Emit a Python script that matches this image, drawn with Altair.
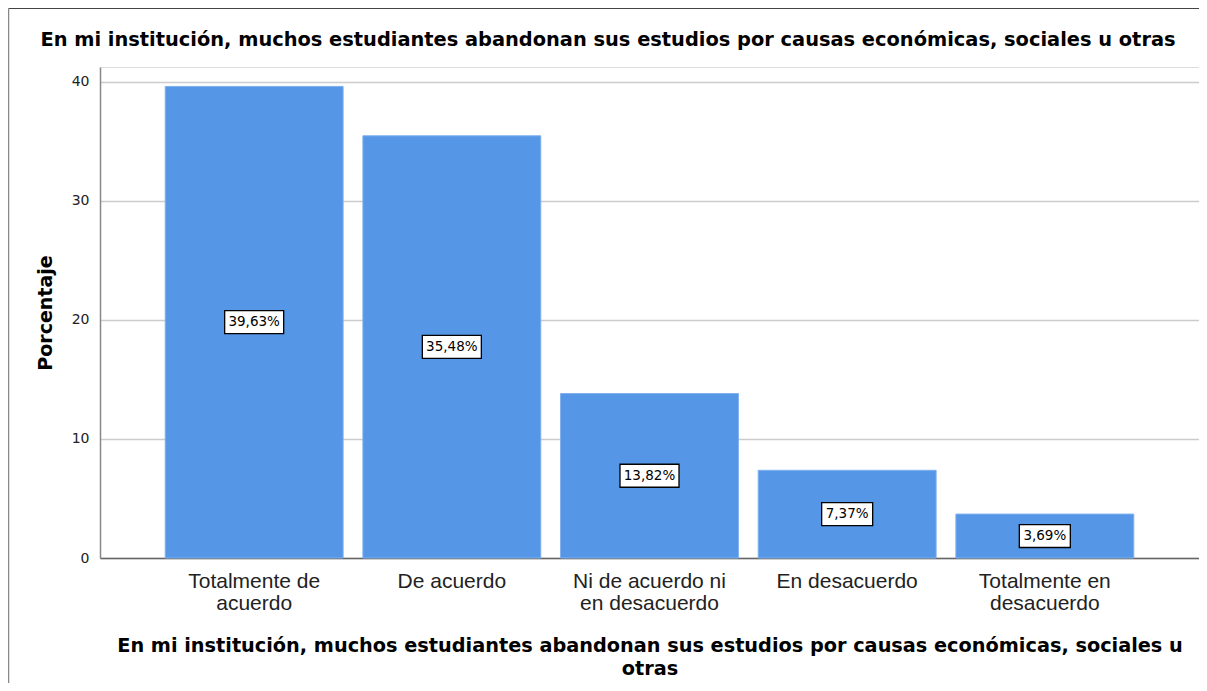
import altair as alt
import pandas as pd

title_text = "En mi institución, muchos estudiantes abandonan sus estudios por causas económicas, sociales u otras"
x_title = ["En mi institución, muchos estudiantes abandonan sus estudios por causas económicas, sociales u", "otras"]
y_title = "Porcentaje"

categories = [
    "Totalmente de|acuerdo",
    "De acuerdo",
    "Ni de acuerdo ni|en desacuerdo",
    "En desacuerdo",
    "Totalmente en|desacuerdo",
]
values = [39.63, 35.48, 13.82, 7.37, 3.69]
labels = ["39,63%", "35,48%", "13,82%", "7,37%", "3,69%"]
y_ticks = [0, 10, 20, 30, 40]

df = pd.DataFrame({"cat": categories, "v": values, "lab": labels})

W, H = 1099, 491
FONT = "Liberation Sans"
BFONT = "DejaVu Sans"

x_enc = alt.X(
    "cat:N",
    sort=categories,
    scale=alt.Scale(paddingInner=0.1, paddingOuter=0.33),
    axis=alt.Axis(
        title=x_title,
        labelExpr="split(datum.label, '|')",
        labelAngle=0,
        labelFontSize=21,
        labelLineHeight=22,
        labelFont=FONT,
        labelColor="#222222",
        labelPadding=12,
        ticks=False,
        domainColor="#666666",
        domainWidth=1.5,
        titleFont=BFONT,
        titleFontSize=19.3,
        titleFontWeight="bold",
        titleColor="#000000",
        titleLineHeight=23,
        titlePadding=23,
    ),
)

base = alt.Chart(df)

bars = base.mark_bar(color="#5596E6", stroke="#7fb0ee", strokeWidth=1).encode(
    x=x_enc,
    y=alt.Y(
        "v:Q",
        scale=alt.Scale(domain=[0, 41.26], nice=False),
        axis=alt.Axis(
            title=y_title,
            values=y_ticks,
            labelFontSize=14,
            labelFont=BFONT,
            labelColor="#222222",
            labelPadding=11,
            ticks=False,
            domainColor="#888888",
            domainWidth=1.5,
            gridColor="#cccccc",
            gridWidth=1.5,
            titleFont=BFONT,
            titleFontSize=19,
            titleFontWeight="bold",
            titleColor="#000000",
            titlePadding=16,
        ),
    ),
)

mid = base.transform_calculate(mid="datum.v / 2")

box_wide = mid.transform_filter("datum.v >= 10").mark_point(
    shape="M-1,-0.39L1,-0.39L1,0.39L-1,0.39Z",
    size=59 * 59,
    filled=True,
    fill="white",
    stroke="#000000",
    strokeWidth=1.3,
    opacity=1,
).encode(x=alt.X("cat:N", sort=categories), y="mid:Q")

box_narrow = mid.transform_filter("datum.v < 10").mark_point(
    shape="M-1,-0.45L1,-0.45L1,0.45L-1,0.45Z",
    size=51 * 51,
    filled=True,
    fill="white",
    stroke="#000000",
    strokeWidth=1.3,
    opacity=1,
).encode(x=alt.X("cat:N", sort=categories), y="mid:Q")

text = mid.mark_text(font=BFONT, fontSize=13.5, color="#000000", baseline="middle").encode(
    x=alt.X("cat:N", sort=categories), y="mid:Q", text="lab:N"
)

title_mark = alt.Chart(pd.DataFrame({"t": [title_text]})).mark_text(
    font=BFONT, fontSize=19.4, fontWeight="bold", color="#000000", align="center", baseline="middle"
).encode(x=alt.value(508), y=alt.value(-27), text="t:N")

border_top = alt.Chart(pd.DataFrame({"k": [0]})).mark_rule(color="#444444", strokeWidth=1).encode(
    x=alt.value(-91.5), x2=alt.value(W + 6), y=alt.value(-58.5)
)
border_left = alt.Chart(pd.DataFrame({"k": [0]})).mark_rule(color="#888888", strokeWidth=1.5).encode(
    x=alt.value(-91.5), y=alt.value(-58.5), y2=alt.value(H + 130)
)

chart = (
    alt.layer(bars, box_wide, box_narrow, text, title_mark, border_top, border_left)
    .properties(
        width=W,
        height=H,
        padding={"left": 92, "top": 59, "right": 0, "bottom": 125},
        autosize=alt.AutoSizeParams(type="none"),
    )
    .configure_view(stroke=None)
    .configure(background="white")
)

chart.save("out.html", embed_options={"renderer": "svg", "actions": False})
